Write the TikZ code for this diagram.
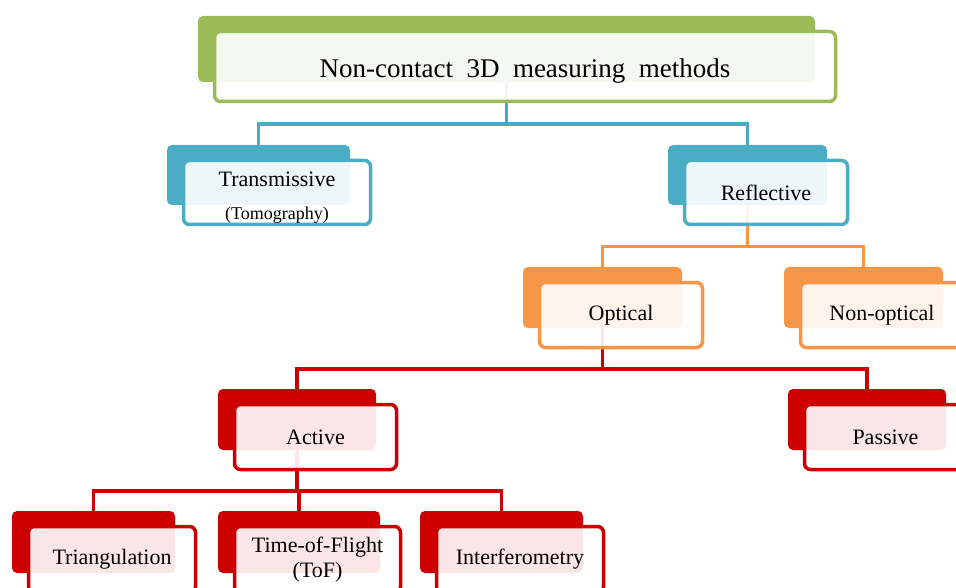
\documentclass[tikz,border=0pt]{standalone}
\usepackage{fontspec}
\setmainfont{Liberation Serif}
\usetikzlibrary{calc,backgrounds}

\definecolor{tgreen}{HTML}{9BBB59}
\definecolor{tblue}{HTML}{4BACC6}
\definecolor{torange}{HTML}{F79646}
\definecolor{tred}{HTML}{CC0000}

\tikzset{
  back/.style={fill=#1, rounded corners=5pt, inner sep=0pt},
  front/.style={draw=#1, line width=3.5pt, fill=white, fill opacity=0.9,
    text opacity=1, rounded corners=6pt, inner sep=0pt, align=center,
    font=\fontsize{22}{25}\selectfont},
  link/.style={draw=#1, line width=3.5pt},
}

% back plate + framed front card: name, colour, x, y, width, height, text
\newcommand{\catnode}[7]{%
  \node[back=#2, minimum width=#5pt, minimum height=#6pt] (#1) at (#3,#4) {};
  \node[front=#2, minimum width=#5pt+4pt, minimum height=#6pt+4pt]
    (#1f) at ([shift={(18.5,17.5)}]#1.center) {#7};
}

\begin{document}
\begin{tikzpicture}[x=1pt,y=-1pt]
\useasboundingbox (0,0) rectangle (956,588);
\clip (0,0) rectangle (956,588);

% boxes
\catnode{root}{tgreen}{506.5}{49}{617}{66}%
  {\rule{0pt}{27pt}\fontsize{27}{30}\selectfont Non-contact\ \ 3D\ \ measuring\ \ methods}
\catnode{trans}{tblue}{258.5}{175}{183}{60}%
  {\rule{0pt}{24pt}Transmissive\\[8pt]{\fontsize{18}{20}\selectfont (Tomography)}}
\catnode{refl}{tblue}{747.5}{175}{159}{60}{Reflective}
\catnode{opt}{torange}{602.5}{297.5}{159}{61}{Optical}
\catnode{nonopt}{torange}{863.5}{297.5}{159}{61}{Non-optical}
\catnode{act}{tred}{297}{419.5}{158}{61}{Active}
\catnode{pas}{tred}{867}{419.5}{158}{61}{Passive}
\catnode{tri}{tred}{93.5}{542}{163}{62}{Triangulation}
\catnode{tof}{tred}{299}{542}{162}{62}{Time-of-Flight\\(ToF)}
\catnode{intf}{tred}{501.5}{542}{163}{62}{Interferometry}

% connectors, behind the cards
\begin{pgfonlayer}{background}
\draw[link=tblue] (root) |- ($(rootf.south)!.5!(trans.north)$) -| (trans);
\draw[link=tblue] (root) |- ($(rootf.south)!.5!(refl.north)$) -| (refl);
\draw[link=torange] (refl) |- ($(reflf.south)!.5!(opt.north)$) -| (opt);
\draw[link=torange] (refl) |- ($(reflf.south)!.5!(nonopt.north)$) -| (nonopt);
\draw[link=tred] (opt) |- ($(optf.south)!.5!(act.north)$) -| (act);
\draw[link=tred] (opt) |- ($(optf.south)!.5!(pas.north)$) -| (pas);
\draw[link=tred] (act) |- ($(actf.south)!.5!(tri.north)$) -| (tri);
\draw[link=tred] (act) |- ($(actf.south)!.5!(tof.north)$) -| (tof);
\draw[link=tred] (act) |- ($(actf.south)!.5!(intf.north)$) -| (intf);
\end{pgfonlayer}
\end{tikzpicture}
\end{document}
